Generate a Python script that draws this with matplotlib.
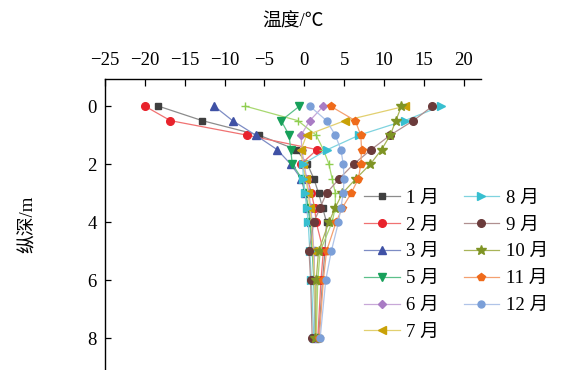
import matplotlib.pyplot as plt

plt.rcParams['font.family'] = ['Liberation Serif', 'Noto Sans CJK SC']
plt.rcParams['axes.unicode_minus'] = True

depth = [0, 0.5, 1, 1.5, 2, 2.5, 3, 3.5, 4, 5, 6, 8]

t_jan = [-18.3, -12.8, -5.7, -1.0, 0.4, 1.2, 1.8, 2.3, 2.8, 2.6, 2.3, 1.8]
t_feb = [-20.0, -16.8, -7.2, 1.6, -0.4, 0.4, 0.9, 1.3, 1.5, 2.4, 2.1, 1.7]
t_mar = [-11.3, -9.0, -6.1, -3.4, -1.7, -0.4, 0.1, 0.5, 0.8, 1.2, 1.3, 1.4]
t_apr = [-7.4, -0.8, 1.5, 2.4, 3.1, 3.5, 3.9, 3.9, 3.5, 2.0, 1.7, 1.5]
t_may = [-0.6, -2.9, -1.9, -1.7, -1.5, -0.3, 0.2, 0.5, 0.7, 1.0, 1.2, 1.4]
t_jun = [2.4, 0.7, -0.4, -0.3, 0.0, 0.3, 0.6, 0.8, 1.0, 1.2, 1.3, 1.4]
t_jul = [12.7, 5.1, 0.3, -0.4, -0.2, 0.2, 0.5, 0.7, 0.9, 1.1, 1.3, 1.5]
t_aug = [17.2, 12.6, 6.9, 2.9, -0.2, -0.1, 0.1, 0.3, 0.5, 0.7, 0.9, 1.2]
t_sep = [16.1, 13.7, 10.8, 8.4, 6.2, 4.4, 2.8, 2.0, 1.2, 0.6, 0.8, 1.0]
t_oct = [12.2, 11.5, 10.8, 9.7, 8.3, 6.5, 4.8, 3.9, 3.1, 1.8, 1.5, 1.4]
t_nov = [3.3, 6.4, 7.1, 7.2, 7.1, 6.8, 5.9, 4.8, 4.0, 2.8, 2.4, 1.9]
t_dec = [0.7, 2.8, 3.9, 4.6, 4.9, 5.0, 4.9, 4.6, 4.3, 3.4, 2.7, 2.0]

labels = ['1 月', '2 月', '3 月', '4 月', '5 月', '6 月', '7 月', '8 月', '9 月', '10 月', '11 月', '12 月']
xticks = [-25, -20, -15, -10, -5, 0, 5, 10, 15, 20]
yticks = [0, 2, 4, 6, 8]

series = [t_jan, t_feb, t_mar, t_apr, t_may, t_jun, t_jul, t_aug, t_sep, t_oct, t_nov, t_dec]
markers = ['s', 'o', '^', '+', 'v', 'D', '<', '>', 'o', '*', 'p', 'o']
msizes = [5, 5.5, 6, 6, 6, 4.5, 6, 6, 5.5, 7, 6, 5]
line_cols = ['#8c8c8c', '#f07272', '#7d8cc4', '#a8d870', '#5cc08a', '#c8a8d8',
             '#e2d070', '#7fd3df', '#b09090', '#a8b458', '#f4a070', '#b0c4e8']
mark_cols = ['#3f3f3f', '#e8232c', '#3f51a5', '#8fce50', '#17a05a', '#a97cc4',
             '#c9a106', '#37bfd0', '#6b3b3b', '#7f9424', '#ef6a1a', '#7b9fd8']

fig = plt.figure(figsize=(5.62, 3.70), dpi=100)
ax = fig.add_axes([0.187, 0.0, 0.669, 0.786])

handles = []
for i in range(len(series)):
    # 4 月 is drawn but has no entry in the original legend
    lab = labels[i] if labels[i] != '4 月' else '_nolegend_'
    h, = ax.plot(series[i], depth, color=line_cols[i], linewidth=0.9,
                 marker=markers[i], markersize=msizes[i],
                 markerfacecolor=mark_cols[i], markeredgecolor=mark_cols[i],
                 markeredgewidth=1.0, label=lab)
    if lab != '_nolegend_':
        handles.append(h)

ax.set_xlim(-25, 22.2)
ax.set_ylim(9.1, -0.93)
ax.xaxis.tick_top()
ax.xaxis.set_label_position('top')
ax.set_xticks(xticks)
ax.set_yticks(yticks)
ax.tick_params(axis='x', direction='in', length=5, width=0.9, labelsize=13.5, pad=7)
ax.tick_params(axis='y', direction='in', length=4, width=0.9, labelsize=13.5, pad=6)
ax.spines['right'].set_visible(False)
ax.spines['bottom'].set_visible(False)
ax.spines['top'].set_linewidth(1.0)
ax.spines['left'].set_linewidth(1.0)

ax.set_xlabel('温度/℃', fontsize=13.5, labelpad=19)
ax.set_ylabel('纵深/m', fontsize=13.5, labelpad=36)

fig.legend(handles=handles, ncol=2, loc='upper left',
           bbox_to_anchor=(0.648, 0.488), frameon=False, fontsize=13.5,
           handlelength=1.9, handletextpad=0.35, columnspacing=1.3,
           labelspacing=0.52, borderpad=0, borderaxespad=0)

fig.savefig('out.png', dpi=100)
